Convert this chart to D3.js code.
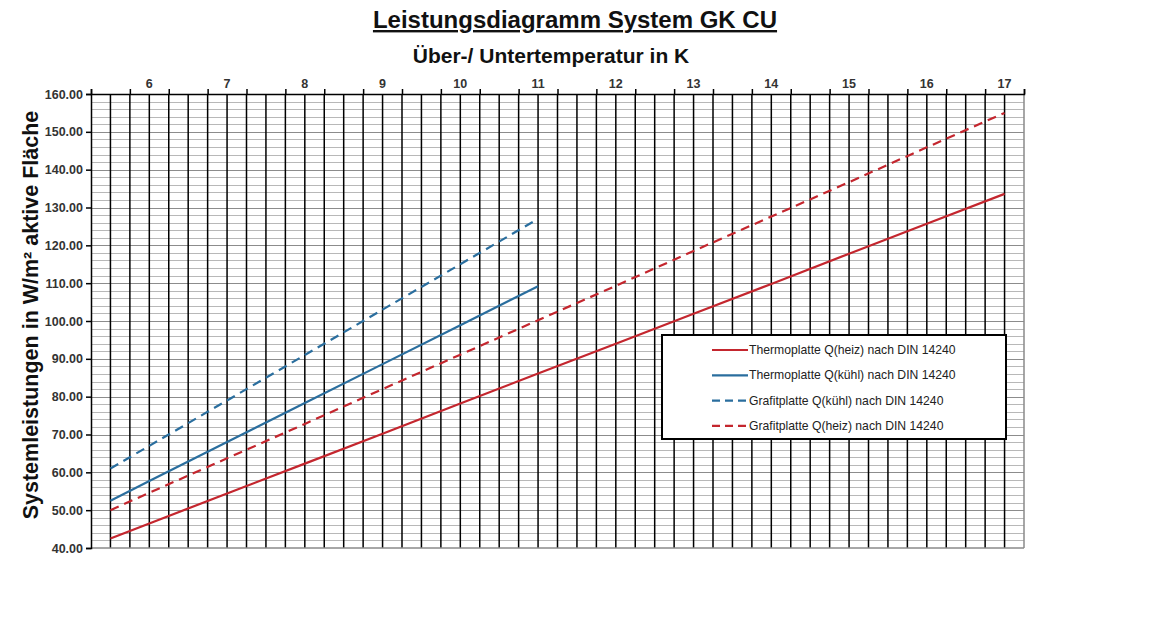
<!DOCTYPE html>
<html>
<head>
<meta charset="utf-8">
<script src="https://cdnjs.cloudflare.com/ajax/libs/d3/7.8.5/d3.min.js"></script>
<style>
  body { margin: 0; background: #fff; }
  text { font-family: "Liberation Sans", Arial, sans-serif; }
</style>
</head>
<body>
<div id="chart"></div>
<script>
// values
const xHeiz = [5.5, 6, 7, 8, 9, 10, 11, 12, 13, 14, 15, 16, 17];
const xKuehl = [5.5, 6, 7, 8, 9, 10, 11];
const thermoHeiz = [42.5, 46.5, 54.4, 62.3, 70.2, 78.2, 86.1, 94.0, 101.9, 109.8, 117.8, 125.7, 133.6];
const thermoKuehl = [52.5, 57.7, 68.0, 78.3, 88.6, 98.9, 109.2];
const grafitKuehl = [61.0, 67.0, 79.0, 91.0, 103.0, 115.0, 127.0];
const grafitHeiz = [50.0, 54.6, 63.7, 72.8, 82.0, 91.1, 100.2, 109.3, 118.5, 127.6, 136.7, 145.9, 155.0];
const xTickLabels = [6, 7, 8, 9, 10, 11, 12, 13, 14, 15, 16, 17];
const yTickLabels = [40, 50, 60, 70, 80, 90, 100, 110, 120, 130, 140, 150, 160];

const RED = "#c4262e";
const BLUE = "#2a6e9e";

const series = [
  { name: "Thermoplatte Q(heiz) nach DIN 14240", x: xHeiz, y: thermoHeiz, color: RED, dash: null },
  { name: "Thermoplatte Q(kühl) nach DIN 14240", x: xKuehl, y: thermoKuehl, color: BLUE, dash: null },
  { name: "Grafitplatte Q(kühl) nach DIN 14240", x: xKuehl, y: grafitKuehl, color: BLUE, dash: "9,6" },
  { name: "Grafitplatte Q(heiz) nach DIN 14240", x: xHeiz, y: grafitHeiz, color: RED, dash: "9,6" }
];

const MARGINS = { left: 91, top: 94, right: 129, bottom: 87 };
const FRAME_WIDTH = 1153;
const FRAME_HEIGHT = 635;
const VIS_WIDTH = FRAME_WIDTH - MARGINS.left - MARGINS.right;
const VIS_HEIGHT = FRAME_HEIGHT - MARGINS.top - MARGINS.bottom;

const svg = d3.select("#chart")
  .append("svg")
  .attr("width", FRAME_WIDTH)
  .attr("height", FRAME_HEIGHT);

const xScale = d3.scaleLinear().domain([5.25, 17.25]).range([0, VIS_WIDTH]);
const yScale = d3.scaleLinear().domain([40, 160]).range([VIS_HEIGHT, 0]);

const plot = svg.append("g")
  .attr("transform", "translate(" + MARGINS.left + "," + MARGINS.top + ")");

// horizontal grid every 2 units (gray)
const hLines = d3.range(42, 160, 2);
plot.selectAll(".hgrid")
  .data(hLines)
  .enter()
  .append("line")
  .attr("x1", 0)
  .attr("x2", VIS_WIDTH)
  .attr("y1", d => Math.round(yScale(d)) + 0.5)
  .attr("y2", d => Math.round(yScale(d)) + 0.5)
  .attr("stroke", d => d % 10 === 0 ? "#8c8c8c" : "#b8b8b8")
  .attr("stroke-width", 1);

// vertical grid every 0.25 (black)
const vLines = d3.range(5.5, 17.01, 0.25);
plot.selectAll(".vgrid")
  .data(vLines)
  .enter()
  .append("line")
  .attr("x1", d => xScale(d))
  .attr("x2", d => xScale(d))
  .attr("y1", 0)
  .attr("y2", VIS_HEIGHT)
  .attr("stroke", "#000")
  .attr("stroke-width", 1.5);

// right + bottom border
plot.append("line")
  .attr("x1", VIS_WIDTH).attr("x2", VIS_WIDTH)
  .attr("y1", 0).attr("y2", VIS_HEIGHT)
  .attr("stroke", "#8a8a8a").attr("stroke-width", 1.5);
plot.append("line")
  .attr("x1", 0).attr("x2", VIS_WIDTH)
  .attr("y1", VIS_HEIGHT).attr("y2", VIS_HEIGHT)
  .attr("stroke", "#8a8a8a").attr("stroke-width", 1.5);

// y axis on the left
const yAxis = plot.append("g")
  .call(d3.axisLeft(yScale)
    .tickValues(yTickLabels)
    .tickSize(5)
    .tickFormat(d3.format(".2f")));
yAxis.select(".domain").attr("stroke", "#000").attr("stroke-width", 1.5);
yAxis.selectAll(".tick line").attr("stroke", "#000").attr("stroke-width", 1.5);
yAxis.selectAll("text")
  .attr("font-size", "12.5px")
  .attr("font-weight", "bold")
  .attr("fill", "#333")
  .attr("x", -8);

// x axis on top: tick marks between categories, labels on integers
const xAxis = plot.append("g")
  .call(d3.axisTop(xScale)
    .tickValues(d3.range(5.25, 17.26, 0.5))
    .tickSize(5)
    .tickFormat(""));
xAxis.select(".domain").attr("stroke", "#000").attr("stroke-width", 1.5);
xAxis.selectAll(".tick line").attr("stroke", "#000").attr("stroke-width", 1.5);

plot.selectAll(".xlabel")
  .data(xTickLabels)
  .enter()
  .append("text")
  .attr("x", d => xScale(d))
  .attr("y", -6)
  .attr("text-anchor", "middle")
  .attr("font-size", "12.5px")
  .attr("font-weight", "bold")
  .attr("fill", "#333")
  .text(d => d);

// lines
const line = d3.line()
  .x(d => xScale(d[0]))
  .y(d => yScale(d[1]));

plot.selectAll(".series")
  .data(series)
  .enter()
  .append("path")
  .attr("d", s => line(s.x.map((v, i) => [v, s.y[i]])))
  .attr("fill", "none")
  .attr("stroke", s => s.color)
  .attr("stroke-width", 2.2)
  .attr("stroke-dasharray", s => s.dash);

// legend
const legend = svg.append("g").attr("transform", "translate(662,335)");
legend.append("rect")
  .attr("width", 344)
  .attr("height", 104)
  .attr("fill", "#fff")
  .attr("stroke", "#000")
  .attr("stroke-width", 2);

const legendRows = legend.selectAll(".row")
  .data(series)
  .enter()
  .append("g")
  .attr("transform", (d, i) => "translate(0," + (15 + i * 25.3) + ")");
legendRows.append("line")
  .attr("x1", 50).attr("x2", 86)
  .attr("y1", 0).attr("y2", 0)
  .attr("stroke", d => d.color)
  .attr("stroke-width", 2.2)
  .attr("stroke-dasharray", d => d.dash ? "8,5" : null);
legendRows.append("text")
  .attr("x", 87)
  .attr("y", 4)
  .attr("font-size", "12.2px")
  .attr("fill", "#222")
  .text(d => d.name);

// titles
svg.append("text")
  .attr("x", 575)
  .attr("y", 28)
  .attr("text-anchor", "middle")
  .attr("font-size", "24px")
  .attr("font-weight", "bold")
  .attr("text-decoration", "underline")
  .attr("fill", "#111")
  .text("Leistungsdiagramm System GK CU");

svg.append("text")
  .attr("x", 551)
  .attr("y", 63)
  .attr("text-anchor", "middle")
  .attr("font-size", "21px")
  .attr("font-weight", "bold")
  .attr("fill", "#111")
  .text("Über-/ Untertemperatur in K");

svg.append("text")
  .attr("transform", "translate(38,315) rotate(-90)")
  .attr("text-anchor", "middle")
  .attr("font-size", "21.5px")
  .attr("font-weight", "bold")
  .attr("fill", "#111")
  .text("Systemleistungen  in W/m² aktive Fläche");
</script>
</body>
</html>
